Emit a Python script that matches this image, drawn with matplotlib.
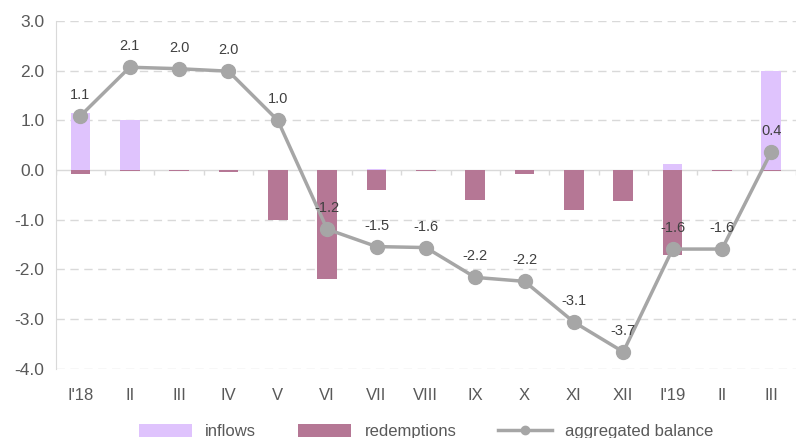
import matplotlib
matplotlib.use("Agg")
import matplotlib.pyplot as plt
import numpy as np

categories = ["I'18", "II", "III", "IV", "V", "VI", "VII", "VIII", "IX", "X", "XI", "XII", "I'19", "II", "III"]
inflows = [1.15, 1.0, 0.0, 0.0, 0.0, 0.0, 0.02, 0.0, 0.0, 0.0, 0.0, 0.0, 0.13, 0.0, 2.0]
redemptions = [-0.07, -0.02, -0.02, -0.04, -1.0, -2.2, -0.4, -0.02, -0.6, -0.08, -0.8, -0.63, -1.71, -0.02, -0.01]
balance = [1.09, 2.07, 2.04, 1.99, 1.0, -1.19, -1.54, -1.56, -2.16, -2.24, -3.06, -3.66, -1.59, -1.59, 0.37]
yticks = [3.0, 2.0, 1.0, 0.0, -1.0, -2.0, -3.0, -4.0]

plt.rcParams['font.family'] = ['Liberation Sans', 'DejaVu Sans']

fig = plt.figure(figsize=(7.96, 4.38), dpi=100)
ax = fig.add_axes([0.070, 0.158, 0.930, 0.794])

x = np.arange(len(categories))
ax.set_xlim(-0.5, len(categories) - 0.5)
ax.set_ylim(-4.0, 3.0)
ax.set_yticks(yticks)
ax.set_yticklabels([f"{v:.1f}" for v in yticks], fontsize=12.5, color="#595959")
ax.set_xticks(x)
ax.set_xticklabels(categories, fontsize=12, color="#595959")
ax.tick_params(axis='x', length=0, pad=14)
ax.tick_params(axis='y', length=0, pad=8)

for yv in yticks:
    if yv != 0:
        ax.axhline(yv, color="#d9d9d9", lw=1, ls=(0, (6, 4)), zorder=0)

for s in ["top", "right", "bottom"]:
    ax.spines[s].set_visible(False)
ax.spines["left"].set_color("#d9d9d9")

bw = 0.4
h_in = ax.bar(x, inflows, width=bw, color="#dfc3fd", label="inflows", zorder=2)
h_red = ax.bar(x, redemptions, width=bw, color="#b57795", label="redemptions", zorder=2)

ax.axhline(0, color="#d9d9d9", lw=1, zorder=1)
ax.vlines(np.arange(len(categories) + 1) - 0.5, -0.1, 0, color="#d9d9d9", lw=1, zorder=1)

h_bal, = ax.plot(x, balance, color="#a6a6a6", lw=2.5, marker="o", markersize=10,
                 label="aggregated balance", zorder=3)

for xi, v in zip(x, balance):
    ax.annotate(f"{v:.1f}", (xi, v), xytext=(0, 10), textcoords="offset points",
                ha="center", va="bottom", fontsize=10.5, color="#404040", zorder=4)

fig.legend(handles=[h_in, h_red, h_bal], loc="center", bbox_to_anchor=(0.535, 0.014), ncol=3,
           frameon=False, fontsize=12, handlelength=3.2, handleheight=0.8, columnspacing=2.5,
           labelcolor="#595959", borderaxespad=0, borderpad=0, markerscale=0.6)

fig.savefig("out.png", dpi=100)
